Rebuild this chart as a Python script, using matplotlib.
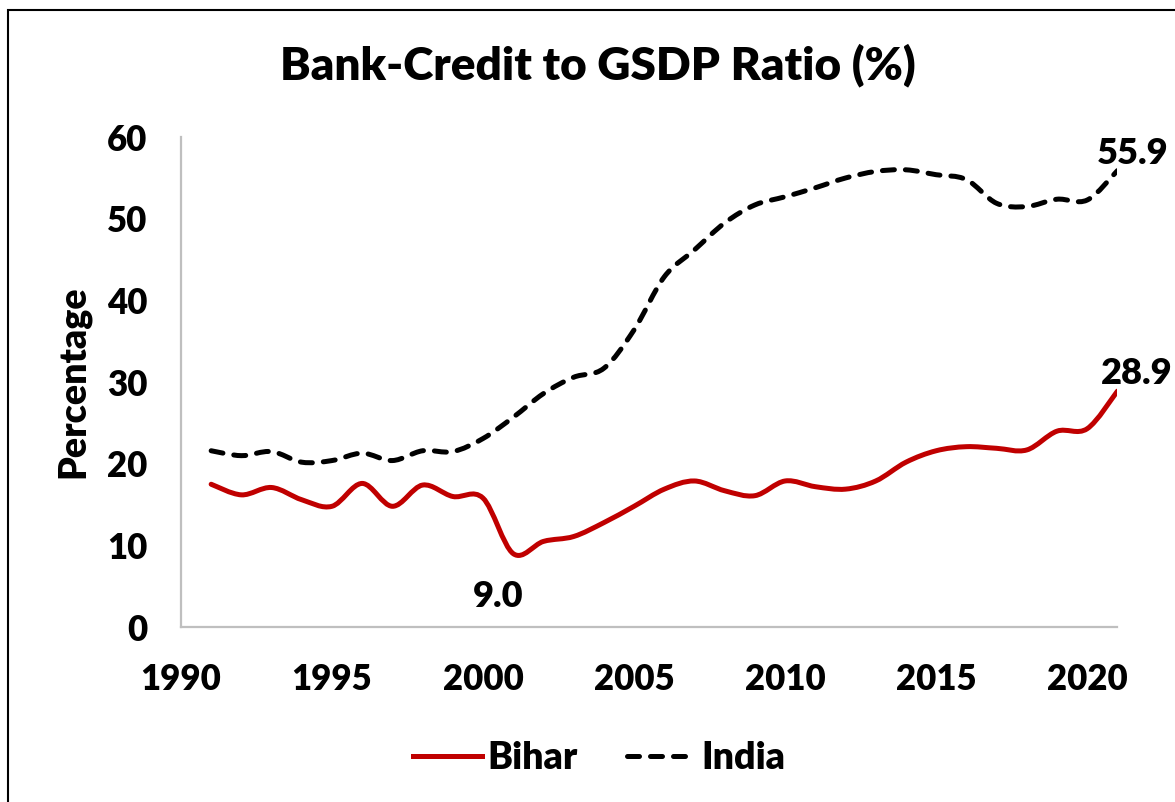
from __future__ import annotations

import matplotlib

matplotlib.use("Agg")

import matplotlib.pyplot as plt
import numpy as np
from matplotlib.lines import Line2D
from matplotlib.patches import PathPatch, Rectangle
from matplotlib.path import Path


YEARS = list(range(1991, 2022))

BIHAR = [
    17.5, 16.2, 17.1, 15.6, 14.8, 17.6, 14.8, 17.4, 16.0, 15.8,
    9.0, 10.5, 11.1, 12.8, 14.8, 16.9, 17.9, 16.7, 16.1, 17.9,
    17.2, 16.9, 17.9, 20.2, 21.6, 22.1, 21.9, 21.7, 24.0, 24.3,
    28.9,
]

INDIA = [
    21.6, 21.0, 21.5, 20.2, 20.4, 21.3, 20.4, 21.6, 21.5, 23.1,
    25.7, 28.6, 30.6, 31.7, 36.4, 42.9, 46.2, 49.5, 51.7, 52.7,
    53.8, 55.0, 55.8, 56.0, 55.4, 54.8, 51.9, 51.5, 52.4, 52.3,
    55.9,
]

X_TICKS = [1990, 1995, 2000, 2005, 2010, 2015, 2020]
Y_TICKS = [0, 10, 20, 30, 40, 50, 60]

TITLE = "Bank-Credit to GSDP Ratio (%)"
Y_LABEL = "Percentage"

FONT = "Lato"
WEIGHT = "heavy"
RED = "#C00000"
AXIS_GRAY = "#BFBFBF"
LINE_WIDTH = 3.6
DASHES = (2.4, 2.2)


def _smooth_path(x: list[float], y: list[float]) -> Path:
    # Excel-style smoothed line: cubic Bezier through every data point
    pts = np.column_stack([x, y]).astype(float)
    verts = [pts[0]]
    codes = [Path.MOVETO]
    n = len(pts)
    for i in range(n - 1):
        p0 = pts[i - 1] if i > 0 else pts[i]
        p1 = pts[i]
        p2 = pts[i + 1]
        p3 = pts[i + 2] if i + 2 < n else pts[i + 1]
        c1 = p1 + (p2 - p0) / 6.0
        c2 = p2 - (p3 - p1) / 6.0
        verts.extend([c1, c2, p2])
        codes.extend([Path.CURVE4, Path.CURVE4, Path.CURVE4])
    return Path(verts, codes)


def _add_series(ax, x, y, color: str, dashed: bool = False) -> None:
    patch = PathPatch(
        _smooth_path(x, y),
        facecolor="none",
        edgecolor=color,
        linewidth=LINE_WIDTH,
        capstyle="round",
        joinstyle="round",
        zorder=3,
    )
    if dashed:
        patch.set_linestyle((0, DASHES))
    ax.add_patch(patch)


def main() -> None:
    fig = plt.figure(figsize=(11.75, 8.02), dpi=100)
    ax = fig.add_axes([0.154, 0.218, 0.797, 0.611])

    _add_series(ax, YEARS, BIHAR, RED)
    _add_series(ax, YEARS, INDIA, "black", dashed=True)

    ax.set_xlim(1990, 2021)
    ax.set_ylim(0, 60)
    ax.set_xticks(X_TICKS)
    ax.set_yticks(Y_TICKS)

    for side in ("top", "right"):
        ax.spines[side].set_visible(False)
    for side in ("left", "bottom"):
        ax.spines[side].set_color(AXIS_GRAY)
        ax.spines[side].set_linewidth(1.6)

    ax.tick_params(axis="both", length=0, labelsize=25)
    ax.tick_params(axis="x", pad=26)
    ax.tick_params(axis="y", pad=24)
    for label in ax.get_xticklabels() + ax.get_yticklabels():
        label.set_fontfamily(FONT)
        label.set_fontweight(WEIGHT)

    ax.set_ylabel(Y_LABEL, fontsize=27, fontweight=WEIGHT, fontfamily=FONT, labelpad=12)

    # data labels
    label_style = dict(fontsize=26, fontweight=WEIGHT, fontfamily=FONT, textcoords="offset points")
    ax.annotate(f"{BIHAR[10]:.1f}", (YEARS[10], BIHAR[10]), xytext=(-11, -31),
                ha="center", va="center", **label_style)
    ax.annotate(f"{BIHAR[-1]:.1f}", (YEARS[-1], BIHAR[-1]), xytext=(-12, 13),
                ha="left", va="center", annotation_clip=False, **label_style)
    ax.annotate(f"{INDIA[-1]:.1f}", (YEARS[-1], INDIA[-1]), xytext=(-15, 12),
                ha="left", va="center", annotation_clip=False, **label_style)

    fig.text(0.509, 0.919, TITLE, ha="center", va="center",
             fontsize=33, fontweight=WEIGHT, fontfamily=FONT)

    handles = [
        Line2D([], [], color=RED, linewidth=LINE_WIDTH),
        Line2D([], [], color="black", linewidth=LINE_WIDTH,
               linestyle=(0, DASHES), dash_capstyle="round"),
    ]
    fig.legend(
        handles,
        ["Bihar", "India"],
        loc="center",
        bbox_to_anchor=(0.51, 0.055),
        ncol=2,
        frameon=False,
        handlelength=1.85,
        handletextpad=0.15,
        columnspacing=1.3,
        prop={"family": FONT, "weight": WEIGHT, "size": 27},
    )

    fig.add_artist(Rectangle((8 / 1175, -0.05), 1.5, 1 - 10 / 802 + 0.05,
                             transform=fig.transFigure, fill=False,
                             edgecolor="black", linewidth=1.5))

    fig.savefig("out.png", dpi=100)
    plt.close(fig)


if __name__ == "__main__":
    main()
